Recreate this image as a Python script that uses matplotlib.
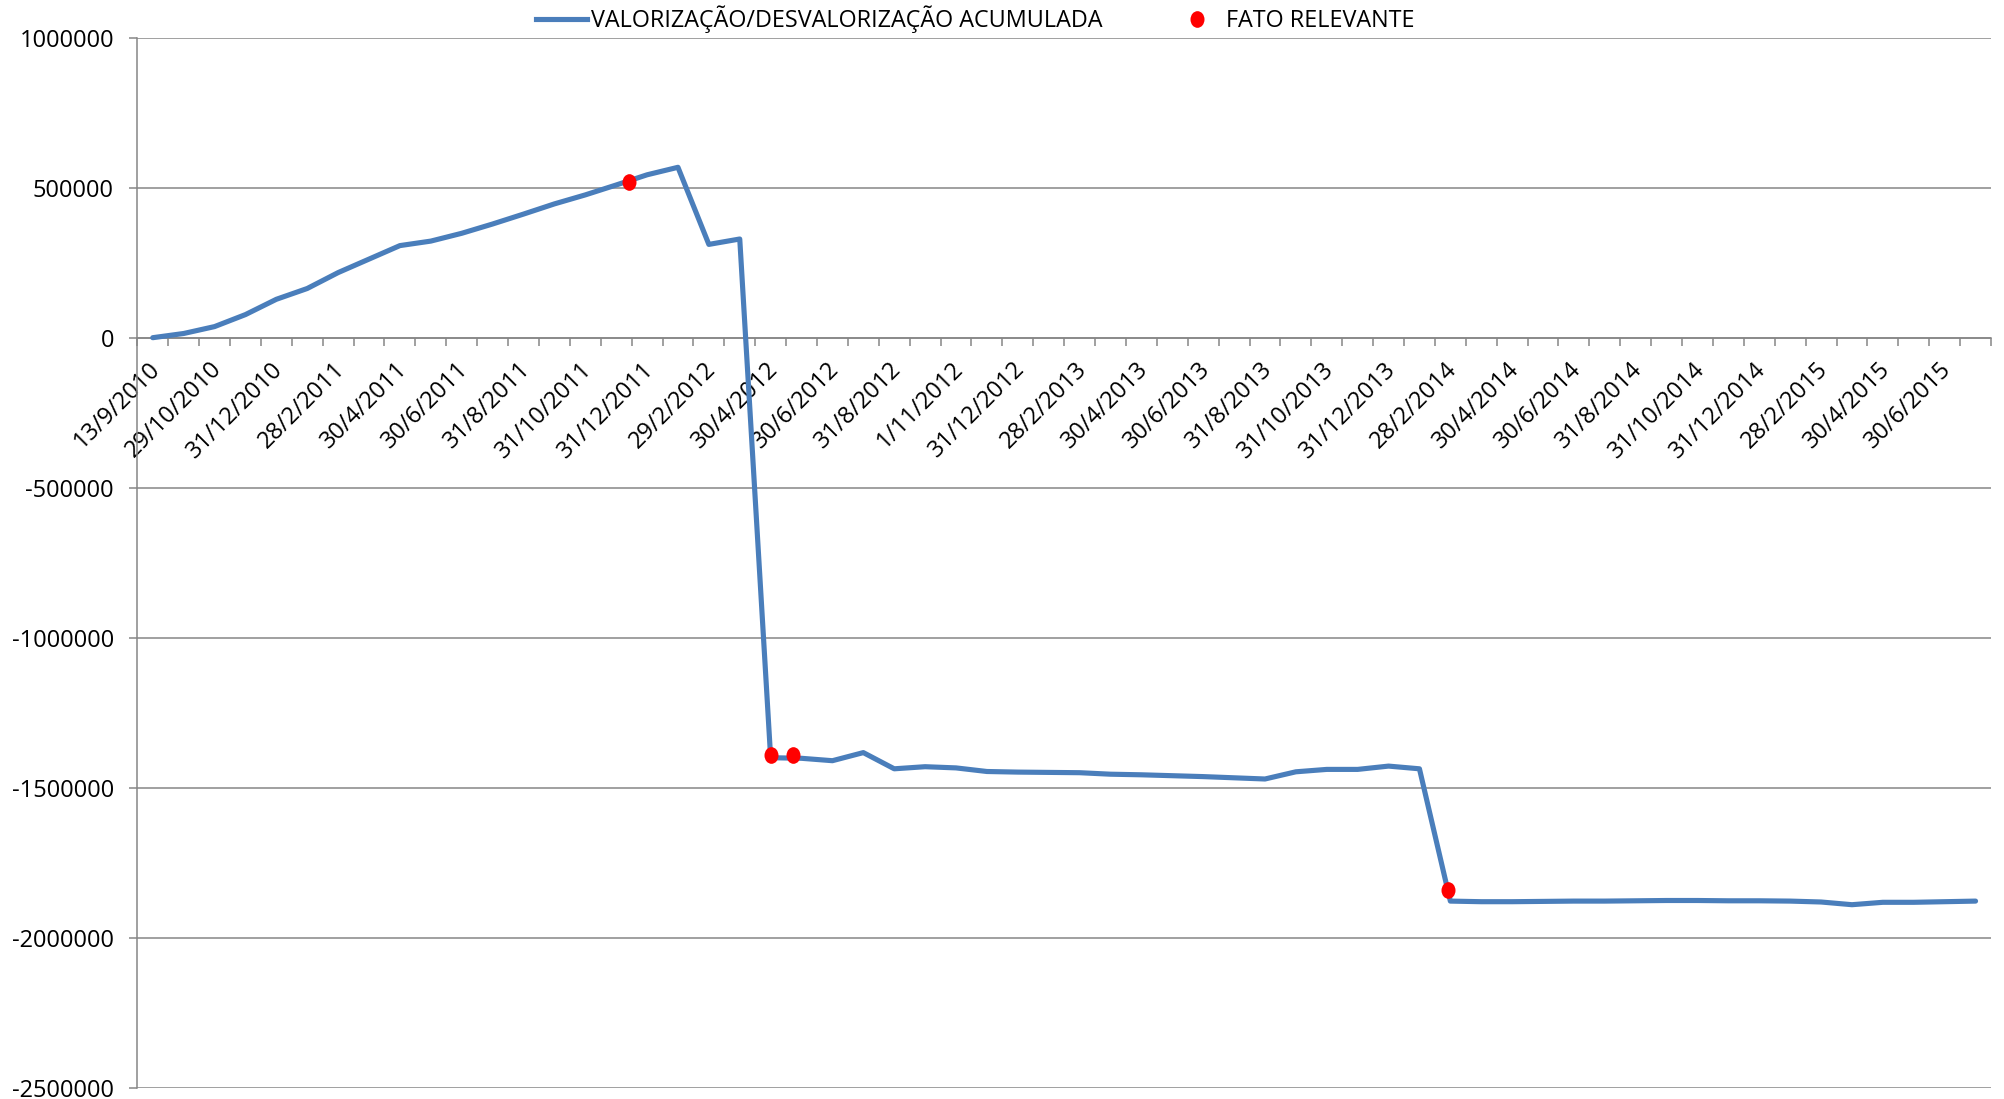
import matplotlib
matplotlib.use("Agg")
import matplotlib.pyplot as plt
from matplotlib.markers import MarkerStyle
from matplotlib.transforms import Affine2D, ScaledTranslation
from matplotlib.lines import Line2D
from matplotlib.ticker import FixedLocator, FuncFormatter

plt.rcParams['font.family'] = ['Open Sans', 'DejaVu Sans']

# ---- data ----
values = [0, 14000, 37000, 77000, 128000, 164000, 217000, 262000, 307000, 322000,
          348000, 379000, 412000, 446000, 476000, 509000, 543000, 568000, 311000, 329000,
          -1400000, -1402000, -1410000, -1383000, -1437000, -1430000, -1434000, -1446000, -1448000, -1449000,
          -1450000, -1455000, -1457000, -1460000, -1463000, -1467000, -1471000, -1447000, -1439000, -1439000,
          -1428000, -1437000, -1878000, -1880000, -1880000, -1879000, -1878000, -1878000, -1877000, -1876000,
          -1876000, -1877000, -1877000, -1878000, -1881000, -1890000, -1882000, -1882000, -1880000, -1878000]

tick_labels = ["13/9/2010", "29/10/2010", "31/12/2010", "28/2/2011", "30/4/2011", "30/6/2011",
               "31/8/2011", "31/10/2011", "31/12/2011", "29/2/2012", "30/4/2012", "30/6/2012",
               "31/8/2012", "1/11/2012", "31/12/2012", "28/2/2013", "30/4/2013", "30/6/2013",
               "31/8/2013", "31/10/2013", "31/12/2013", "28/2/2014", "30/4/2014", "30/6/2014",
               "31/8/2014", "31/10/2014", "31/12/2014", "28/2/2015", "30/4/2015", "30/6/2015"]

fato_pos = [15.4, 20.02, 20.72, 41.94]
fato_vals = [519000, -1390000, -1390000, -1842000]

series_name = "VALORIZAÇÃO/DESVALORIZAÇÃO ACUMULADA"
fato_name = "FATO RELEVANTE"

# ---- figure ----
W, H = 2004, 1099
DPI = 100
fig = plt.figure(figsize=(W / DPI, H / DPI), dpi=DPI)
left, right = 137.3 / W, 1991 / W
top, bottom = 1 - 37.7 / H, 1 - 1087.7 / H
ax = fig.add_axes([left, bottom, right - left, top - bottom])

blue = '#4A7EBB'
grid_c = '#868686'
FS = 17

n = len(values)
x = list(range(n))
ax.plot(x, values, color=blue, lw=3.7, solid_joinstyle='round', solid_capstyle='round', zorder=3)

ell = MarkerStyle('o', transform=Affine2D().scale(0.84, 1.0))
ax.plot(fato_pos, fato_vals, linestyle='none', marker=ell, markersize=12,
        color='#FF0000', markeredgewidth=0, zorder=4)

ax.set_xlim(-0.5, n - 0.5)
ax.set_ylim(-2500000, 1000000)

# y axis
yt = list(range(-2500000, 1000001, 500000))
ax.yaxis.set_major_locator(FixedLocator(yt))
ax.yaxis.set_major_formatter(FuncFormatter(lambda v, p: "%d" % int(round(v))))
ax.grid(axis='y', color=grid_c, lw=1.1, zorder=1)
ax.tick_params(axis='y', which='major', length=5.8, width=1.1, color=grid_c,
               labelsize=FS, labelcolor='black', pad=11)

# x axis at zero
for s in ['top', 'right']:
    ax.spines[s].set_visible(False)
ax.spines['bottom'].set_position(('data', 0))
ax.spines['bottom'].set_color(grid_c)
ax.spines['bottom'].set_linewidth(1.1)
ax.spines['left'].set_color(grid_c)
ax.spines['left'].set_linewidth(1.1)

ax.xaxis.set_major_locator(FixedLocator([k - 0.5 for k in range(n + 1)]))
ax.xaxis.set_major_formatter(FuncFormatter(lambda v, p: ""))
ax.tick_params(axis='x', which='major', length=5.8, width=1.1, color=grid_c)

label_pos = [2 * k for k in range(len(tick_labels))]
ax.xaxis.set_minor_locator(FixedLocator(label_pos))
ax.set_xticklabels(tick_labels, minor=True)
ax.tick_params(axis='x', which='minor', length=0, pad=14, labelsize=FS, labelcolor='black')
off = ScaledTranslation(-5 / DPI, 0, fig.dpi_scale_trans)
for lab in ax.get_xticklabels(minor=True):
    lab.set_rotation(45)
    lab.set_rotation_mode('anchor')
    lab.set_ha('right')
    lab.set_va('top')
    lab.set_transform(lab.get_transform() + off)

# legend
handles = [Line2D([], [], color=blue, lw=3.7),
           Line2D([], [], linestyle='none', marker=ell, markersize=12, color='#FF0000', markeredgewidth=0)]
fig.legend(handles, [series_name, fato_name], loc='center', bbox_to_anchor=(975 / W, 1 - 19 / H),
           ncol=2, frameon=False, fontsize=16.8, handlelength=2.2, handletextpad=0.15,
           columnspacing=2.95, borderaxespad=0, borderpad=0)

fig.savefig("out.png", dpi=DPI)
